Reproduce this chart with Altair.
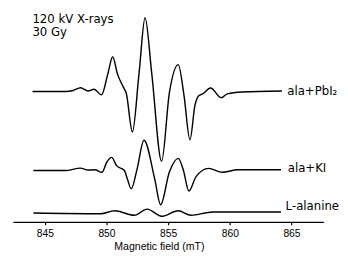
import altair as alt
import pandas as pd

# ---- data (field in mT, signal in arbitrary units) ----
pbi2_field = [844.0, 846.7, 847.3, 847.9, 848.5, 849.0, 849.6, 850.1, 850.5, 850.9,
              851.45, 851.6, 852.1, 852.64, 853.13, 853.67, 854.47, 855.1, 855.82,
              856.29, 856.77, 857.17, 857.48, 857.8, 858.44, 859.31, 859.79, 860.98, 864.23]
pbi2_signal = [-0.5, -0.5, 0.5, 3.3, 0.0, 1.7, -4.0, 17.0, 35.0, 17.0,
               2.0, -2.0, -42.0, 18.0, 75.0, 18.0, -72.0, -2.0, 27.0,
               -5.0, -50.0, -15.0, -5.0, -3.0, 3.0, -7.0, -3.0, -1.0, 0.0]

ki_field = [844.07, 846.7, 847.88, 848.52, 849.07, 849.63, 850.02, 850.42, 850.82,
            851.45, 851.69, 852.01, 852.48, 853.04, 853.91, 854.39, 855.1, 855.82,
            856.21, 856.69, 857.25, 858.28, 859.39, 860.66, 864.15]
ki_signal = [0.0, 0.0, 2.5, 0.5, 0.8, -1.8, 8.5, 13.5, 5.0,
             0.0, -8.5, -18.5, 1.5, 31.0, -8.5, -35.0, -1.5, 12.5,
             1.5, -21.0, -6.5, 2.2, -1.8, 0.8, 0.8]

ala_field = [844.07, 849.55, 850.66, 852.25, 853.3, 854.47, 855.82, 856.85, 858.6, 864.15]
ala_signal = [0.0, -0.7, 2.3, -2.3, 4.0, -3.3, 2.3, -2.3, 1.0, 1.0]

series_names = ["ala+PbI\u2082", "ala+KI", "L-alanine"]
series_offsets = [134.0, 52.5, 9.0]
x_ticks = [845, 850, 855, 860, 865]
x_title = "Magnetic field (mT)"
note_lines = ["120 kV X-rays", "30 Gy"]

rows = []
for name, off, fs, ss in zip(series_names, series_offsets,
                             [pbi2_field, ki_field, ala_field],
                             [pbi2_signal, ki_signal, ala_signal]):
    for f, s in zip(fs, ss):
        rows.append({"series": name, "field": f, "y": off + s})
df = pd.DataFrame(rows)

LABEL_FONT = "DejaVu Sans"
AXIS_FONT = "Liberation Sans"

lines = alt.Chart(df).mark_line(color="black", strokeWidth=1.45, interpolate="monotone").encode(
    x=alt.X("field:Q",
            scale=alt.Scale(domain=[842.41, 867.59], nice=False, zero=False),
            axis=alt.Axis(values=x_ticks, format="d", title=x_title, grid=False,
                          tickSize=3, tickColor="black", tickWidth=1.2,
                          domainColor="black", domainWidth=1.4,
                          labelColor="black", labelFont=AXIS_FONT, labelFontSize=10.5,
                          labelBaseline="alphabetic", labelPadding=12,
                          titleColor="black", titleFont=AXIS_FONT, titleFontSize=10.8,
                          titleFontWeight="normal", titleX=149.5, titleY=28,
                          titleAlign="center", titleBaseline="alphabetic")),
    y=alt.Y("y:Q", scale=alt.Scale(domain=[0, 216], nice=False, zero=False), axis=None),
    detail="series:N",
)

def label(text, x, y):
    return alt.Chart(pd.DataFrame({"t": [text]})).mark_text(
        align="left", baseline="alphabetic", font=LABEL_FONT, fontSize=12, color="black"
    ).encode(text="t:N", x=alt.value(x), y=alt.value(y))

chart = alt.layer(
    lines,
    label(note_lines[0], 20, 12.7),
    label(note_lines[1], 20, 25.5),
    label(series_names[0], 281, 86),
    label(series_names[1], 281.5, 165.3),
    label(series_names[2], 279.3, 203.7),
).properties(
    width=318, height=216,
    autosize=alt.AutoSizeParams(type="none"),
    padding={"left": 5, "top": 0, "right": 17, "bottom": 31},
).configure_view(stroke=None)

chart.save("out.html", embed_options={"renderer": "svg", "actions": False})
